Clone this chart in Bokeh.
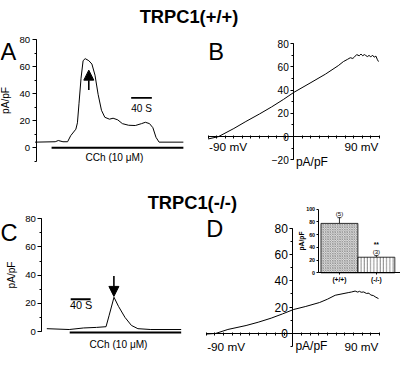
from bokeh.plotting import figure
from bokeh.models import (Range1d, LinearAxis, SingleIntervalTicker, FixedTicker,
                          Arrow, NormalHead, Whisker, TeeHead, ColumnDataSource)
from bokeh.core.properties import value
from bokeh.embed import file_html
from bokeh.resources import INLINE

# ---------------- data ----------------
# Panel A: TRPC1(+/+) current vs time (s, pA/pF)
A_TIME = [-2, 37, 43, 52, 61, 67, 77, 80, 83, 87, 91, 95, 102, 108, 114, 120, 126.5,
          133, 142, 149, 158, 167, 179, 192, 204, 211.5, 219.5, 226, 232, 238, 285]
A_CURR = [4.2, 4.5, 5.4, 4.5, 4.5, 9.0, 13.8, 18.5, 32.6, 51.5, 64.5, 66.0, 64.5, 62.0,
          53.8, 39.6, 27.8, 22.6, 21.2, 21.9, 20.7, 17.9, 16.7, 16.5, 17.9, 18.9, 17.9,
          14.9, 7.8, 4.2, 4.2]
A_CCH = [30, 285]          # CCh application, s
A_BAR = [184, 224]         # 40 s scale bar

# Panel C: TRPC1(-/-) current vs time (s, pA/pF)
C_TIME = [10, 55, 84, 110, 129, 135, 145, 154, 167, 180, 193, 219, 280]
C_CURR = [2.2, 1.6, 2.7, 3.1, 3.6, 11.3, 24.4, 18.0, 10.2, 4.5, 2.2, 1.6, 1.6]
C_CCH = [56, 280]
C_BAR = [58, 98]

# Panel B: TRPC1(+/+) I-V (mV, pA/pF)
B_V = [-100, -88, -70, -56, -40, -26, -12, 0, 19, 37, 52, 58, 63, 66, 69, 71, 73.5,
       76.5, 78.5, 80.5, 82.5, 84, 86, 88, 90, 92, 94, 96, 97.5, 99]
B_I = [-2, 0, 7, 13, 19.5, 25.5, 32, 38, 46, 53.7, 61, 64.5, 66.5, 67.8, 67.2, 68.5,
       70.5, 69.5, 71, 69.5, 70.5, 69.8, 68.8, 69.8, 68.5, 70, 68.3, 69.2, 66.5, 64.5]

# Panel D: TRPC1(-/-) I-V (mV, pA/pF)
D_V = [-100, -89, -75, -54, -40, -25, -12, 1, 15, 31, 40, 49, 58, 64, 68, 72, 75, 77,
       79, 82, 85, 88, 90, 93, 96, 99]
D_I = [-0.5, 0, 3, 6, 8.5, 11.6, 14.8, 18.2, 20.5, 23.5, 26, 29, 30.2, 31, 31.5, 32.2,
       31.4, 32, 31.3, 31.5, 30.4, 30.6, 29.2, 28.8, 27.5, 26.5]

# Inset (panel D): mean peak current
GROUPS = ["(+/+)", "(-/-)"]
MEANS = [77.5, 24.5]
ERRS = [9, 2.5]
NS = ["(5)", "(3)"]

# ---------------- layout helpers ----------------
# main coordinates: reference-image pixels, y negated (y = -row)
REF_W, TOP, BOT = 416, 2, 371
W, H = 400, 353
S = W / REF_W
FONT = "Liberation Sans"


def fs(n):
    return f"{n * S:.1f}px"


def xr(v0, p0, v1, p1):
    k = (v1 - v0) / (p1 - p0)
    return Range1d(start=v0 + (0 - p0) * k, end=v0 + (REF_W - p0) * k)


def yr(v0, p0, v1, p1):
    k = (v1 - v0) / (p1 - p0)
    return Range1d(start=v0 + (BOT - p0) * k, end=v0 + (TOP - p0) * k)


p = figure(width=W, height=H, x_range=Range1d(0, REF_W), y_range=Range1d(-BOT, -TOP),
           x_axis_type=None, y_axis_type=None, toolbar_location=None,
           output_backend="svg", min_border=0, outline_line_color=None)
p.background_fill_color = "white"
p.border_fill_color = "white"

p.extra_x_ranges = {"A": xr(0, 37, 40, 58.5), "B": xr(0, 305, 100, 394),
                    "C": xr(0, 43, 40, 63.7), "D": xr(0, 304, 100, 394),
                    "I": xr(0.5, 333.3, 1.5, 371.7)}
p.extra_y_ranges = {"A": yr(0, 156, 80, 43), "B": yr(0, 144.3, 80, 47),
                    "C": yr(0, 348.3, 80, 230), "D": yr(0, 350, 80, 240),
                    "I": yr(0, 286.7, 100, 220)}


def yaxis(name, loc, bounds, size, interval=20, minor=2, tick=4, mtick=2, standoff=2,
          bold=False, label=None, label_size=10.5, label_standoff=4):
    ax = LinearAxis(x_range_name=name, y_range_name=name, fixed_location=loc,
                    bounds=bounds,
                    ticker=SingleIntervalTicker(interval=interval, num_minor_ticks=minor),
                    major_label_text_font=FONT, major_label_text_font_size=fs(size),
                    major_label_text_color="black",
                    major_label_text_font_style="bold" if bold else "normal",
                    major_tick_out=tick, major_tick_in=0,
                    minor_tick_out=mtick, minor_tick_in=0,
                    major_label_standoff=standoff,
                    axis_line_color="black", major_tick_line_color="black",
                    minor_tick_line_color="black")
    if label:
        ax.axis_label = label
        ax.axis_label_text_font = FONT
        ax.axis_label_text_font_size = fs(label_size)
        ax.axis_label_text_font_style = "bold" if bold else "normal"
        ax.axis_label_text_color = "black"
        ax.axis_label_standoff = label_standoff
    p.add_layout(ax, "left")
    return ax


def xaxis(name, bounds, ticks, tick_out=2, tick_in=1):
    ax = LinearAxis(x_range_name=name, y_range_name=name, fixed_location=0,
                    bounds=bounds,
                    ticker=FixedTicker(ticks=ticks),
                    major_label_overrides={t: "" for t in ticks},
                    major_tick_out=tick_out, major_tick_in=tick_in,
                    axis_line_color="black", major_tick_line_color="black",
                    major_label_text_font_size="1px")
    p.add_layout(ax, "below")
    return ax


def txt(x, y, t, size, name="default", align="left", baseline="alphabetic",
        bold=False):
    p.text(x=x, y=y, text=t, x_range_name=name, y_range_name=name,
           text_font=value(FONT), text_font_size=value(fs(size)),
           text_align=align, text_baseline=baseline,
           text_font_style="bold" if bold else "normal", text_color="black")


# titles and panel letters (reference pixel column, negated row)
txt([196], [-18.5], ["TRPC1(+/+)"], 19, align="center", bold=True)
txt([199.5], [-213.5], ["TRPC1(-/-)"], 19, align="center", bold=True)
txt([0], [-55.5], ["A"], 24.5)
txt([216], [-55.5], ["B"], 24.5)
txt([0], [-245.5], ["C"], 24.5)
txt([214], [-240.5], ["D"], 24.5)

# ---- Panel A ----
yaxis("A", 0, (-10, 80), 10, label="pA/pF", label_standoff=6)
p.line(A_TIME, A_CURR, x_range_name="A", y_range_name="A", color="black", line_width=1)
p.segment(x0=[A_CCH[0]], x1=[A_CCH[1]], y0=[0], y1=[0], x_range_name="A",
          y_range_name="A", color="black", line_width=2)
p.segment(x0=[A_BAR[0]], x1=[A_BAR[1]], y0=[37], y1=[37], x_range_name="A",
          y_range_name="A", color="black", line_width=1.8)
txt([sum(A_CCH) / 2 - 6], [-7.2], ["CCh (10 \u03bcM)"], 10.5, "A", align="center")
txt([sum(A_BAR) / 2], [29], ["40 S"], 10.5, "A", align="center")
p.add_layout(Arrow(end=NormalHead(size=10, fill_color="black", line_color="black"),
                   x_start=102, y_start=42.7, x_end=102, y_end=57.5,
                   x_range_name="A", y_range_name="A", line_width=1.6))

# ---- Panel C ----
yaxis("C", 0, (0, 80), 10, label="pA/pF", label_standoff=5)
p.line(C_TIME, C_CURR, x_range_name="C", y_range_name="C", color="black", line_width=1)
p.segment(x0=[C_CCH[0]], x1=[C_CCH[1]], y0=[-0.5], y1=[-0.5], x_range_name="C",
          y_range_name="C", color="black", line_width=2)
p.segment(x0=[C_BAR[0]], x1=[C_BAR[1]], y0=[23], y1=[23], x_range_name="C",
          y_range_name="C", color="black", line_width=1.8)
txt([154], [-9.3], ["CCh (10 \u03bcM)"], 10.5, "C", align="center")
txt([sum(C_BAR) / 2 + 1], [19.2], ["40 S"], 11.3, "C", align="center")
p.add_layout(Arrow(end=NormalHead(size=10, fill_color="black", line_color="black"),
                   x_start=144.8, y_start=39.5, x_end=144.8, y_end=25,
                   x_range_name="C", y_range_name="C", line_width=1.6))

# ---- Panel B ----
yaxis("B", 0, (-20, 80), 10.5, tick=3)
xaxis("B", (-100, 100), list(range(-100, 101, 10)))
p.line(B_V, B_I, x_range_name="B", y_range_name="B", color="black", line_width=1)
txt([-99], [-8.8], ["-90 mV"], 12.3, "B")
txt([99], [-8.8], ["90 mV"], 12.3, "B", align="right")
txt([2.5], [-21.5], ["pA/pF"], 12.5, "B")

# ---- Panel D ----
yaxis("D", 0, (-10, 80), 12.5, tick=3)
xaxis("D", (-100, 100), list(range(-100, 101, 10)))
p.line(D_V, D_I, x_range_name="D", y_range_name="D", color="black", line_width=1)
txt([-99], [-10.6], ["-90 mV"], 12.3, "D")
txt([99], [-10.6], ["90 mV"], 12.3, "D", align="right")
txt([3], [-9.5], ["pA/pF"], 12.5, "D")

# ---- Inset ----
pos = [i + 1 for i in range(len(GROUPS))]
src = ColumnDataSource(dict(x=pos, top=MEANS, upper=[m + e for m, e in zip(MEANS, ERRS)]))
yaxis("I", 0.42, (0, 100), 5.5, minor=1, tick=2, mtick=0, standoff=1, bold=True,
      label="pA/pF", label_size=7, label_standoff=-1)
xaxis("I", (0.42, 2.68), pos, tick_out=2, tick_in=0)
p.vbar(x=[pos[0]], top=[MEANS[0]], width=1, bottom=0, x_range_name="I", y_range_name="I",
       fill_color="#e0e0e0", line_color="black", line_width=0.8,
       hatch_pattern="diagonal_cross", hatch_color="#666666", hatch_scale=2.4,
       hatch_weight=0.5)
p.vbar(x=[pos[1]], top=[MEANS[1]], width=1, bottom=0, x_range_name="I", y_range_name="I",
       fill_color="white", line_color="black", line_width=0.8,
       hatch_pattern="vertical_line", hatch_color="#666666", hatch_scale=3.2,
       hatch_weight=0.8)
p.add_layout(Whisker(source=src, base="x", upper="upper", lower="top",
                     dimension="height", x_range_name="I", y_range_name="I",
                     upper_head=TeeHead(size=4, line_width=0.8), lower_head=None,
                     line_width=0.8))
txt(pos, [u + 6 for u in src.data["upper"]], NS, 6.3, "I", align="center",
    baseline="middle")
txt([pos[1]], [45], ["**"], 7, "I", align="center", baseline="middle", bold=True)
txt(pos, [-10] * len(pos), GROUPS, 7, "I", align="center", baseline="middle", bold=True)

open("out.html", "w").write(file_html(p, INLINE))
